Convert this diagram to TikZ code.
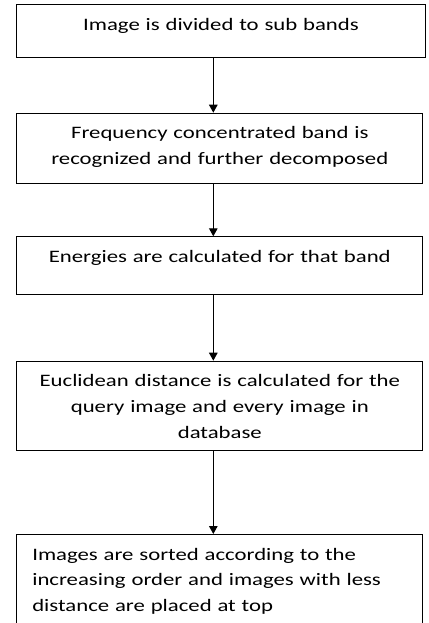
\documentclass[tikz,border=0pt]{standalone}
\usepackage{fontspec}
\setmainfont{Carlito}[FakeStretch=1.3]
\usetikzlibrary{arrows.meta,positioning}

\begin{document}
\begin{tikzpicture}[>={Triangle[width=8.5pt,length=8pt]}, line width=1.3pt,
    stage/.style={rectangle, draw, line width=1pt, minimum width=406.3pt, inner xsep=7pt, inner ysep=0pt,
      text width=392.3pt, align=center, text height=25.5pt, font=\fontsize{17.5}{25.7}\selectfont, anchor=north}]
    \useasboundingbox (0,0) rectangle (428pt,-623pt);
    \coordinate (spine) at (213.3pt,0);

    \node[stage, minimum width=409.5pt, text width=395.5pt, text depth=27.5pt] (divide) at (221pt,-4.5pt) {Image is divided to sub bands};
    \node[stage, below=54.2pt of divide, xshift=-1.2pt, text depth=44.5pt] (decomp) {Frequency concentrated band is\\recognized and further decomposed};
    \node[stage, below=52.6pt of decomp, text depth=32.5pt] (energy) {Energies are calculated for that band};
    \node[stage, below=65.4pt of energy, text depth=63.5pt] (dist) {Euclidean distance is calculated for the\\query image and every image in\\database};
    \node[stage, below=83.3pt of dist, align=left, inner xsep=15.6pt, text width=375pt, text depth=76pt] (sort) {Images are sorted according to the\\increasing order and images with less\\distance are placed at top};

    \draw[->] (divide.south -| spine) -- (decomp.north -| spine);
    \draw[->] (decomp.south -| spine) -- (energy.north -| spine);
    \draw[->] (energy.south -| spine) -- (dist.north -| spine);
    \draw[->] (dist.south -| spine) -- (sort.north -| spine);
\end{tikzpicture}
\end{document}
